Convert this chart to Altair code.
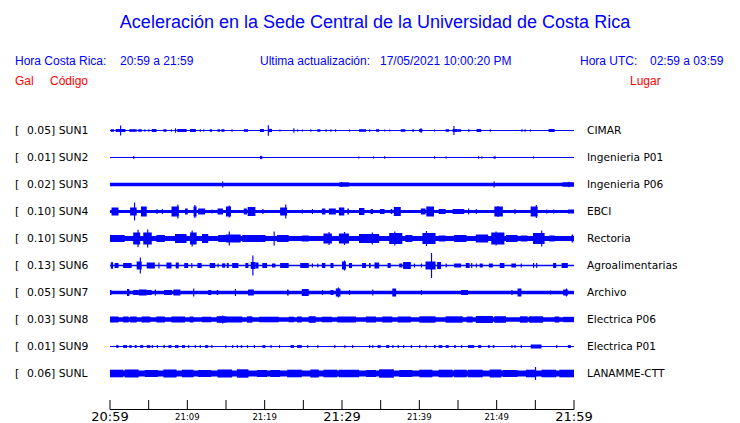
import altair as alt
import pandas as pd

# ---------------- data ----------------
stations = ["SUN1", "SUN2", "SUN3", "SUN4", "SUN5", "SUN6", "SUN7", "SUN8", "SUN9", "SUNL"]
gal = ["0.05", "0.01", "0.02", "0.10", "0.10", "0.13", "0.05", "0.03", "0.01", "0.06"]
lugar = ["CIMAR", "Ingenieria P01", "Ingenieria P06", "EBCI", "Rectoria",
         "Agroalimentarias", "Archivo", "Electrica P06", "Electrica P01", "LANAMME-CTT"]
# background (noise) half-amplitude of each trace
base_amp = [0.6, 0.6, 1.8, 1.6, 2.5, 0.8, 1.7, 2.3, 0.6, 2.9]

# bursts: (start minute, end minute, half amplitude)
sun1 = [(0.1, 0.5, 1.3), (0.74, 2.0, 1.5), (1.3, 1.4, 5), (2.5, 3.45, 1.3), (3.65, 4.1, 1.3),
        (4.45, 4.6, 1.3), (4.95, 5.1, 1.3), (5.4, 6.0, 1.5), (6.9, 7.3, 1.3), (7.85, 8.0, 1.3),
        (8.4, 8.5, 2.2), (8.7, 9.9, 1.5), (10.35, 11.1, 1.5), (11.6, 11.75, 1.3), (12.05, 12.2, 1.3),
        (12.9, 13.2, 1.3), (13.9, 14.2, 1.3), (14.4, 14.8, 1.3), (15.7, 15.85, 1.3), (17.3, 17.85, 1.3),
        (19.4, 19.9, 1.5), (20.4, 20.5, 5.3), (20.5, 20.95, 1.6), (21.9, 22.05, 1), (23.7, 23.8, 2.3),
        (24.2, 24.35, 1.3), (24.8, 24.95, 1), (25.9, 26.05, 1.3), (26.8, 27.2, 1.3), (27.85, 28.0, 1.3),
        (28.5, 28.65, 1.3), (29.1, 29.25, 1.3), (30.9, 31.05, 1), (32.2, 33.1, 1.3), (33.5, 33.65, 1.3),
        (34.4, 34.8, 1.3), (35.45, 35.6, 1), (36.1, 36.25, 1), (37.6, 38.2, 1.3), (39.1, 39.3, 1.3),
        (39.98, 40.4, 1.5), (40.15, 40.25, 2.2), (41.9, 42.05, 1), (43.4, 43.85, 1.3), (44.3, 44.9, 1.5),
        (44.4, 44.5, 4.5), (44.9, 45.4, 1.3), (46.3, 46.5, 1.3), (47.4, 48.0, 1.5), (49.1, 49.25, 1.3),
        (53.2, 53.35, 1.3), (53.6, 53.75, 1.3), (54.3, 54.45, 1), (56.7, 57.5, 1.5)]
sun2 = [(3.0, 3.1, 1.6), (19.4, 19.7, 1.6), (32.1, 32.2, 1), (34.0, 34.1, 1), (35.45, 35.55, 1.2),
        (41.9, 42.0, 1.2), (43.4, 43.5, 0.9), (47.6, 47.7, 1.2), (48.0, 48.1, 1), (49.6, 49.9, 1.2),
        (54.7, 54.8, 1)]
sun3 = [(14.5, 14.65, 3), (29.6, 30.9, 2.1), (29.9, 30.0, 2.6), (49.6, 49.7, 3), (58.5, 60, 2.2),
        (59.3, 59.4, 2.8)]
sun4 = [(0.2, 1.1, 4), (2.6, 3.45, 4), (3.1, 3.2, 9), (4.0, 4.75, 5), (6.0, 6.15, 2.5), (6.7, 6.85, 2.5),
        (7.95, 8.9, 5), (8.7, 8.8, 7), (9.7, 10.05, 3), (10.8, 11.2, 5), (10.9, 11.0, 6.5), (11.4, 12.3, 3),
        (13.1, 13.25, 2), (13.9, 14.6, 3), (15.0, 15.65, 5), (15.35, 15.45, 6), (17.3, 17.7, 3),
        (17.8, 18.8, 4.5), (19.7, 19.85, 2.5), (22.0, 22.9, 4), (22.65, 22.75, 7), (24.8, 24.95, 2),
        (26.1, 26.25, 2.5), (27.4, 27.85, 3), (28.3, 29.2, 3), (29.6, 30.3, 4), (30.7, 30.9, 3),
        (32.2, 32.9, 3.5), (33.7, 34.0, 2.5), (34.9, 35.5, 2.5), (36.3, 36.5, 2.5), (36.7, 37.6, 4.5),
        (40.2, 40.8, 3), (40.9, 41.9, 5), (42.5, 43.4, 2.5), (44.3, 45.8, 2.5), (46.3, 46.45, 3),
        (47.3, 47.45, 2.5), (49.7, 50.8, 5), (50.1, 50.2, 5.5), (52.3, 52.45, 2.5), (54.4, 55.3, 5),
        (55.05, 55.15, 6.5), (56.4, 56.55, 2), (57.3, 57.45, 2), (59.2, 60, 2)]
sun5 = [(0.0, 1.9, 3.5), (3.0, 3.9, 6), (3.55, 3.65, 8.7), (4.3, 5.4, 6), (4.8, 4.9, 9), (6.0, 7.1, 3.5),
        (8.4, 9.9, 4.5), (10.35, 11.2, 6), (10.55, 10.65, 8), (11.9, 12.7, 4.5), (14.0, 15.35, 3.5),
        (15.35, 15.45, 7), (15.0, 16.9, 4), (17.1, 20.1, 3.5), (21.15, 21.25, 7), (21.6, 23.1, 3.5),
        (24.8, 25.7, 3), (27.6, 28.7, 5), (28.25, 28.35, 6.5), (29.6, 30.9, 5), (30.25, 30.35, 6.5),
        (32.2, 34.8, 4.5), (33.85, 33.95, 6), (36.1, 37.8, 5.5), (36.75, 36.85, 7), (38.2, 39.1, 3.5),
        (40.4, 42.1, 5.5), (40.85, 40.95, 7.5), (42.5, 43.4, 3), (44.5, 46.1, 3.5), (47.3, 48.9, 4),
        (49.3, 51.0, 6), (49.85, 49.95, 7), (51.2, 52.7, 3.5), (53.1, 54.0, 3), (54.7, 56.2, 5.5),
        (55.75, 55.85, 8), (56.8, 57.5, 3), (59.7, 59.9, 4)]
sun6 = [(0.1, 0.4, 3), (0.2, 0.3, 3.5), (0.6, 1.1, 2.5), (1.7, 2.8, 2.5), (3.45, 4.1, 4), (3.85, 3.95, 8),
        (4.75, 5.8, 3), (6.25, 6.4, 3), (7.3, 7.95, 3), (8.5, 8.9, 3), (9.6, 10.1, 2.5), (10.5, 10.65, 2.5),
        (11.3, 11.85, 2.5), (12.9, 13.6, 2.5), (13.9, 14.05, 2), (14.5, 14.9, 2.2), (15.1, 15.35, 2.5),
        (15.8, 16.6, 2.5), (17.5, 17.9, 2.5), (18.2, 18.8, 3.5), (18.4, 18.5, 10), (18.8, 19.2, 3),
        (19.7, 20.3, 2.5), (20.95, 21.4, 2), (22.0, 23.1, 2.5), (24.6, 25.7, 2.5), (26.1, 26.25, 2),
        (26.8, 26.95, 2), (27.4, 27.85, 2.5), (28.5, 28.9, 2.5), (30.0, 30.5, 4), (30.25, 30.35, 5),
        (30.9, 31.3, 2.5), (32.6, 33.1, 2.5), (33.5, 33.7, 2.5), (34.2, 34.8, 3), (35.9, 36.3, 2.5),
        (37.4, 37.8, 2), (37.9, 38.9, 3.5), (39.3, 39.45, 2), (40.2, 40.35, 2), (40.8, 42.1, 4),
        (41.5, 41.6, 12.5), (42.3, 42.8, 3.5), (43.4, 43.55, 2), (44.5, 45.4, 2), (46.0, 46.5, 2.5),
        (46.7, 46.85, 2.5), (47.3, 47.45, 2), (47.8, 48.2, 2), (49.0, 49.5, 2), (50.4, 51.0, 2.5),
        (51.9, 52.5, 2), (53.1, 53.25, 2), (54.7, 54.85, 2.5), (55.1, 55.25, 2.5), (57.3, 57.7, 2.5),
        (58.4, 59.2, 2.5)]
sun7 = [(0.0, 0.2, 2.5), (2.2, 2.5, 3.5), (3.0, 3.7, 2.5), (3.7, 4.75, 3), (4.75, 5.4, 2.5),
        (5.8, 5.95, 3), (7.0, 8.0, 2.5), (8.2, 9.1, 3), (10.75, 10.9, 4), (12.7, 13.1, 2.5),
        (13.8, 14.0, 2.5), (16.15, 16.3, 3.5), (17.85, 18.6, 3), (22.9, 23.1, 3), (24.8, 25.7, 3.5),
        (27.4, 27.55, 2.5), (28.5, 28.9, 2.5), (29.2, 29.8, 4), (29.45, 29.55, 5), (30.9, 31.05, 2.5),
        (33.9, 34.05, 3), (36.5, 37.0, 4), (40.2, 40.35, 2.5), (45.4, 46.3, 2.5), (51.9, 52.05, 2.5),
        (52.7, 53.2, 4), (56.9, 57.05, 2), (58.6, 59.2, 3), (58.95, 59.05, 4)]
sun8 = [(0.0, 1.1, 3), (1.7, 2.4, 3), (2.6, 3.45, 3), (4.1, 5.2, 3), (6.0, 7.1, 3), (7.95, 9.7, 3),
        (10.3, 10.8, 3), (11.9, 13.1, 2.8), (13.8, 15.1, 3.3), (14.5, 14.6, 4), (15.1, 17.1, 3),
        (17.7, 18.4, 3.2), (19.3, 21.8, 2.8), (23.1, 23.8, 2.8), (24.2, 24.8, 3), (25.7, 26.6, 3.3),
        (27.4, 28.7, 2.8), (29.4, 31.8, 3), (33.1, 34.4, 3), (35.2, 36.5, 3), (37.2, 38.9, 3),
        (40.0, 42.1, 3.2), (43.4, 45.6, 3.2), (46.1, 46.9, 3), (47.3, 49.5, 3.5), (49.7, 51.2, 3.3),
        (53.0, 54.0, 3.2), (54.2, 56.0, 3.2), (57.5, 58.1, 3), (58.6, 60, 2.7)]
sun9 = [(0.8, 1.1, 1.4), (1.7, 2.2, 1.4), (2.5, 2.8, 1.4), (3.2, 3.45, 1.4), (3.9, 4.3, 1.4),
        (4.75, 5.2, 1.4), (5.4, 5.55, 1.4), (6.05, 6.2, 1.4), (6.9, 7.1, 1.4), (7.55, 7.95, 1.4),
        (8.4, 8.85, 1.4), (9.3, 9.7, 1.4), (10.1, 10.25, 1.4), (10.95, 11.1, 1.4), (11.6, 11.75, 1.4),
        (12.3, 12.7, 1.4), (13.1, 13.25, 1.4), (14.9, 15.05, 1.4), (15.8, 15.95, 1.4), (16.4, 16.55, 1.4),
        (16.9, 17.1, 1.4), (17.7, 17.85, 1.4), (18.6, 18.75, 1.4), (19.7, 20.1, 1.4), (20.75, 20.9, 1.4),
        (21.85, 22.0, 1.4), (23.35, 23.8, 1.4), (24.2, 24.8, 1.4), (25.5, 25.65, 1.4), (26.8, 26.95, 1.4),
        (29.0, 29.15, 1.4), (30.3, 30.45, 1.4), (31.3, 31.45, 1.4), (33.5, 33.65, 1.4), (33.9, 34.05, 1.4),
        (34.6, 35.0, 1.4), (35.7, 36.1, 1.4), (36.5, 36.65, 1.4), (37.2, 37.35, 1.4), (37.9, 38.05, 1.4),
        (38.9, 39.05, 1.4), (39.98, 40.1, 1.4), (40.8, 40.95, 1.4), (41.9, 42.1, 1.4), (42.5, 42.98, 1.4),
        (43.4, 43.8, 1.4), (44.5, 44.7, 1.4), (45.4, 45.55, 1.4), (46.3, 47.1, 1.4), (47.6, 48.0, 1.4),
        (48.9, 49.1, 1.4), (49.5, 49.7, 1.4), (51.9, 52.05, 1.4), (52.3, 52.45, 1.4), (53.1, 53.25, 1.4),
        (54.4, 55.8, 2), (57.7, 57.85, 1.4), (59.2, 59.6, 1.4)]
sunl = [(0.0, 1.7, 3.8), (1.9, 3.7, 4), (4.5, 6.2, 3.5), (6.9, 8.6, 4), (9.3, 10.8, 3.8), (11.4, 13.1, 3.5),
        (13.9, 15.8, 4), (16.4, 17.9, 4.2), (19.0, 20.3, 3.5), (20.75, 22.0, 3.5), (22.9, 24.8, 3.8),
        (25.9, 27.0, 4), (27.6, 29.4, 3.8), (29.6, 32.2, 3.8), (33.1, 34.4, 3.5), (34.8, 36.7, 4.2),
        (37.4, 39.1, 3.5), (40.0, 41.7, 3.8), (42.5, 44.3, 3.8), (44.5, 46.1, 3.8), (46.3, 48.2, 3.8),
        (49.1, 50.6, 4), (50.8, 52.7, 3.5), (53.8, 55.1, 3.8), (54.95, 55.05, 6.5), (55.8, 57.7, 3.8),
        (58.1, 60, 3.8)]
bursts = [sun1, sun2, sun3, sun4, sun5, sun6, sun7, sun8, sun9, sunl]

tick_minutes = list(range(0, 61, 5))
major_minutes = [0, 30, 60]
major_labels = ["20:59", "21:29", "21:59"]
minor_minutes = [10, 20, 40, 50]
minor_labels = ["21:09", "21:19", "21:39", "21:49"]

# ---------------- tables ----------------
SPACING = 27  # trace separation in amplitude units
rows = []
for i, (st, bl) in enumerate(zip(stations, bursts)):
    off = i * SPACING
    rows.append(dict(station=st, start=0.0, end=60.0, lo=off - base_amp[i], hi=off + base_amp[i]))
    for s, e, a in bl:
        if e - s < 0.15:
            e = s + 0.15
        rows.append(dict(station=st, start=s, end=e, lo=off - a, hi=off + a))
traces = pd.DataFrame(rows)

labels = pd.DataFrame({
    "station": stations,
    "off": [i * SPACING for i in range(len(stations))],
    "left": [f"{g}] {s}" for g, s in zip(gal, stations)],
    "lugar": lugar,
})
ticks = pd.DataFrame({"m": tick_minutes})
majors = pd.DataFrame({"m": major_minutes, "t": major_labels})
minors = pd.DataFrame({"m": minor_minutes, "t": minor_labels})

BLUE = "#0000ff"
RED = "#ff0000"
HFONT = "Liberation Sans"
LFONT = "DejaVu Sans"

xs = alt.Scale(domain=[0, 60], nice=False, zero=False)
ys = alt.Scale(domain=[-13.5, 278.5], nice=False, zero=False, reverse=True)

trace_layer = alt.Chart(traces).mark_rect(color=BLUE).encode(
    x=alt.X("start:Q", scale=xs, axis=None),
    x2="end:Q",
    y=alt.Y("lo:Q", scale=ys, axis=None),
    y2="hi:Q",
)

bracket = alt.Chart(labels).mark_text(align="left", baseline="middle", font=LFONT, fontSize=11,
                                      color="black", text="[", dy=0.5).encode(
    x=alt.value(-95), y=alt.Y("off:Q", scale=ys, axis=None))
left_lab = alt.Chart(labels).mark_text(align="left", baseline="middle", font=LFONT, fontSize=10.8,
                                       color="black", dy=0.5).encode(
    x=alt.value(-83), y=alt.Y("off:Q", scale=ys, axis=None), text="left:N")
right_lab = alt.Chart(labels).mark_text(align="left", baseline="middle", font=LFONT, fontSize=10.6,
                                        color="black", dy=0.5).encode(
    x=alt.value(477), y=alt.Y("off:Q", scale=ys, axis=None), text="lugar:N")

axis_line = alt.Chart(ticks).mark_rule(color="black", strokeWidth=1).encode(
    x=alt.X("min(m):Q", scale=xs, axis=None), x2="max(m):Q", y=alt.value(292.5))
tick_layer = alt.Chart(ticks).mark_rule(color="black", strokeWidth=1).encode(
    x=alt.X("m:Q", scale=xs, axis=None), y=alt.value(283), y2=alt.value(292.5))
major_layer = alt.Chart(majors).mark_text(align="center", baseline="middle", font=LFONT,
                                          fontSize=13, color="black").encode(
    x=alt.X("m:Q", scale=xs, axis=None), y=alt.value(300), text="t:N")
minor_layer = alt.Chart(minors).mark_text(align="center", baseline="middle", font=LFONT,
                                          fontSize=8.5, color="black").encode(
    x=alt.X("m:Q", scale=xs, axis=None), y=alt.value(300), text="t:N")


def txt(text, x, y, size, color, align="left"):
    return alt.Chart(pd.DataFrame({"t": [text]})).mark_text(
        align=align, baseline="middle", font=HFONT, fontSize=size, color=color
    ).encode(x=alt.value(x), y=alt.value(y), text="t:N")


headers = [
    txt("Aceleración en la Sede Central de la Universidad de Costa Rica", 265, -94, 18, BLUE, "center"),
    txt("Hora Costa Rica:", -95, -56, 12, BLUE),
    txt("20:59 a 21:59", 10, -56, 12, BLUE),
    txt("Ultima actualización:", 150, -56, 12, BLUE),
    txt("17/05/2021 10:00:20 PM", 270, -56, 12, BLUE),
    txt("Hora UTC:", 470, -56, 12, BLUE),
    txt("02:59 a 03:59", 540, -56, 12, BLUE),
    txt("Gal", -95, -36, 12, RED),
    txt("Código", -60, -36, 12, RED),
    txt("Lugar", 520, -36, 12, RED),
]

chart = alt.layer(
    trace_layer, bracket, left_lab, right_lab, axis_line, tick_layer, major_layer, minor_layer, *headers
).properties(
    width=464, height=292,
    padding={"left": 102, "top": 109, "right": 154, "bottom": 20},
    autosize=alt.AutoSizeParams(type="none"),
    background="white",
).configure_view(stroke=None)

chart.save("out.html", embed_options={"renderer": "svg", "actions": False})
